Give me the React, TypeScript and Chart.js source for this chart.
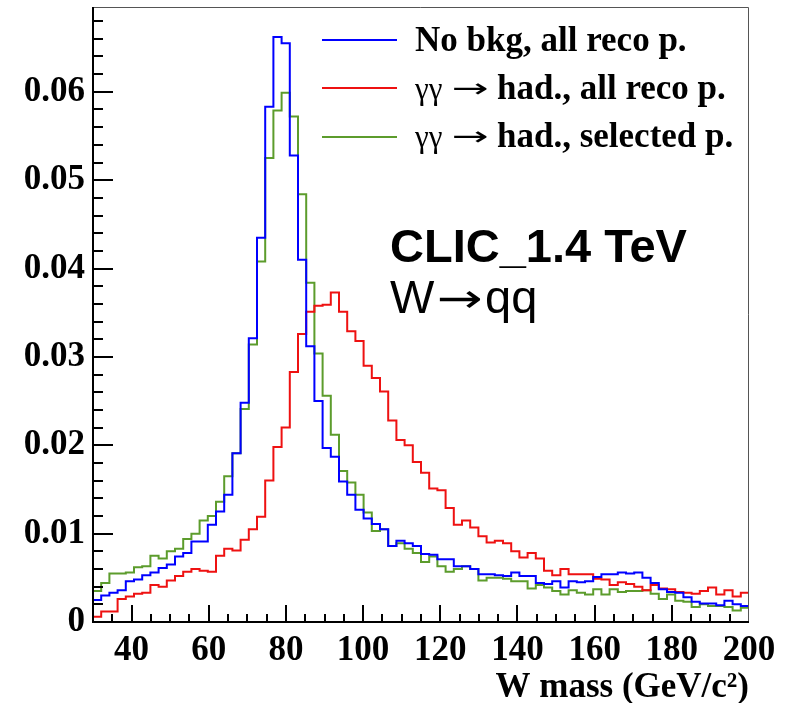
import React, { useEffect, useRef } from 'react';
import { Chart, registerables } from 'chart.js';

Chart.register(...registerables);

// ---- axis ranges / binning ----
const X_MIN = 30;
const X_MAX = 200;
const N_BINS = 80;
const Y_MIN = 0;
const Y_MAX = 0.0696;
const X_MAJOR_STEP = 20;
const X_MINOR_STEP = 5;
const Y_MAJOR_STEP = 0.01;
const Y_MINOR_STEP = 0.002;

const X_TITLE = 'W mass (GeV/c²)';
const SERIES_LABELS = ['No bkg, all reco p.', 'γγ → had., all reco p.', 'γγ → had., selected p.'];
const SERIES_COLORS = ['#0000ff', '#ee1111', '#5c9c2c'];
const TEXT_LINE1 = 'CLIC_1.4 TeV';
const TEXT_LINE2 = ['W', '→', 'qq'];

// ---- bin contents (80 bins, 30..200 GeV) ----
const noBkgAllReco = [
  0.0025, 0.0030, 0.0033, 0.0036, 0.0046, 0.0048, 0.0053, 0.0056, 0.0061, 0.0065,
  0.0074, 0.0078, 0.0091, 0.0091, 0.0110, 0.0125, 0.0144, 0.0191, 0.0248, 0.0321,
  0.0435, 0.0583, 0.0662, 0.0655, 0.0528, 0.0410, 0.0312, 0.0250, 0.0197, 0.0187,
  0.0159, 0.0144, 0.0127, 0.0117, 0.0111, 0.0105, 0.0086, 0.0092, 0.0089, 0.0086,
  0.0077, 0.0076, 0.0071, 0.0071, 0.0063, 0.0063, 0.0060, 0.0054, 0.0054, 0.0053,
  0.0052, 0.0056, 0.0052, 0.0052, 0.0044, 0.0043, 0.0046, 0.0039, 0.0046, 0.0045,
  0.0046, 0.0051, 0.0054, 0.0054, 0.0056, 0.0055, 0.0056, 0.0050, 0.0044, 0.0037,
  0.0034, 0.0033, 0.0028, 0.0023, 0.0021, 0.0021, 0.0019, 0.0024, 0.0020, 0.0018,
];

const ggHadAllReco = [
  0.0006, 0.0012, 0.0012, 0.0026, 0.0029, 0.0032, 0.0033, 0.0042, 0.0040, 0.0047,
  0.0052, 0.0057, 0.0060, 0.0058, 0.0057, 0.0075, 0.0083, 0.0081, 0.0093, 0.0105,
  0.0119, 0.0160, 0.0198, 0.0220, 0.0283, 0.0326, 0.0351, 0.0358, 0.0359, 0.0373,
  0.0351, 0.0329, 0.0318, 0.0290, 0.0276, 0.0261, 0.0228, 0.0206, 0.0200, 0.0181,
  0.0169, 0.0151, 0.0149, 0.0129, 0.0110, 0.0115, 0.0107, 0.0097, 0.0090, 0.0092,
  0.0089, 0.0080, 0.0073, 0.0078, 0.0072, 0.0058, 0.0053, 0.0060, 0.0054, 0.0054,
  0.0054, 0.0049, 0.0048, 0.0042, 0.0045, 0.0043, 0.0040, 0.0036, 0.0042, 0.0038,
  0.0037, 0.0034, 0.0033, 0.0032, 0.0035, 0.0039, 0.0031, 0.0036, 0.0029, 0.0033,
];

const ggHadSelected = [
  0.0035, 0.0044, 0.0055, 0.0055, 0.0056, 0.0062, 0.0063, 0.0075, 0.0072, 0.0080,
  0.0083, 0.0094, 0.0100, 0.0115, 0.0120, 0.0136, 0.0165, 0.0191, 0.0241, 0.0314,
  0.0408, 0.0525, 0.0579, 0.0599, 0.0572, 0.0484, 0.0384, 0.0304, 0.0256, 0.0212,
  0.0171, 0.0158, 0.0144, 0.0124, 0.0103, 0.0105, 0.0086, 0.0089, 0.0083, 0.0078,
  0.0068, 0.0074, 0.0063, 0.0057, 0.0060, 0.0063, 0.0060, 0.0047, 0.0050, 0.0050,
  0.0049, 0.0046, 0.0046, 0.0038, 0.0042, 0.0039, 0.0035, 0.0031, 0.0036, 0.0033,
  0.0031, 0.0037, 0.0031, 0.0037, 0.0034, 0.0035, 0.0035, 0.0036, 0.0032, 0.0026,
  0.0031, 0.0024, 0.0023, 0.0017, 0.0020, 0.0018, 0.0018, 0.0017, 0.0013, 0.0016,
];

const SERIES = [noBkgAllReco, ggHadAllReco, ggHadSelected];

const BIN_W = (X_MAX - X_MIN) / N_BINS;

// points at the left edge of each bin (plus the closing right edge)
function histPoints(values: number[]) {
  const pts = values.map((v, i) => ({ x: X_MIN + i * BIN_W, y: v }));
  pts.push({ x: X_MAX, y: values[values.length - 1] });
  return pts;
}

const SERIF = '"Liberation Serif", "Times New Roman", serif';
const SANS = '"Liberation Sans", Arial, sans-serif';
const ARROW_FONT = '"DejaVu Sans", sans-serif';

function drawStretched(ctx: CanvasRenderingContext2D, text: string, font: string, x: number, y: number, width: number) {
  ctx.save();
  ctx.font = font;
  const w = ctx.measureText(text).width;
  ctx.translate(x, y);
  ctx.scale(width / w, 1);
  ctx.fillText(text, 0, 0);
  ctx.restore();
}

const decorPlugin = {
  id: 'rootDecor',
  afterDatasetsDraw(chart: any) {
    const { ctx, chartArea: a, scales } = chart;
    const x = scales.x;
    const y = scales.y;
    ctx.save();
    // thin top/right frame
    ctx.strokeStyle = '#555555';
    ctx.lineWidth = 1;
    ctx.beginPath();
    ctx.moveTo(a.left, a.top + 0.5);
    ctx.lineTo(a.right - 0.5, a.top + 0.5);
    ctx.lineTo(a.right - 0.5, a.bottom);
    ctx.stroke();
    // main axes
    ctx.strokeStyle = '#000000';
    ctx.lineWidth = 2;
    ctx.beginPath();
    ctx.moveTo(a.left, a.top);
    ctx.lineTo(a.left, a.bottom);
    ctx.lineTo(a.right, a.bottom);
    ctx.stroke();
    // inside ticks on x
    const nx = Math.round((X_MAX - X_MIN) / X_MINOR_STEP);
    ctx.beginPath();
    for (let k = 1; k < nx; k++) {
      const v = X_MIN + k * X_MINOR_STEP;
      const px = Math.round(x.getPixelForValue(v));
      const major = Math.abs(v / X_MAJOR_STEP - Math.round(v / X_MAJOR_STEP)) < 1e-6;
      const len = major ? 17 : 8;
      ctx.moveTo(px, a.bottom);
      ctx.lineTo(px, a.bottom - len);
    }
    ctx.stroke();
    // inside ticks on y
    ctx.beginPath();
    const ratio = Math.round(Y_MAJOR_STEP / Y_MINOR_STEP);
    for (let k = 1; k * Y_MINOR_STEP <= Y_MAX; k++) {
      const v = k * Y_MINOR_STEP;
      const py = Math.round(y.getPixelForValue(v));
      const len = k % ratio === 0 ? 20 : 10;
      ctx.moveTo(a.left, py);
      ctx.lineTo(a.left + len, py);
    }
    ctx.stroke();
    ctx.restore();
  },
  afterDraw(chart: any) {
    const { ctx } = chart;
    ctx.save();
    // legend
    const rows = [40, 88, 137];
    const baselines = [51, 99, 147];
    chart.data.datasets.forEach((ds: any, i: number) => {
      ctx.strokeStyle = ds.borderColor;
      ctx.lineWidth = 2;
      ctx.beginPath();
      ctx.moveTo(322, rows[i]);
      ctx.lineTo(397, rows[i]);
      ctx.stroke();
      ctx.fillStyle = '#000';
      ctx.textBaseline = 'alphabetic';
      ctx.textAlign = 'left';
      const label: string = ds.label;
      const idx = label.indexOf('→');
      if (idx >= 0) {
        const greek = label.slice(0, idx).trim();
        ctx.font = `normal 31px ${SERIF}`;
        ctx.fillText(greek, 415, baselines[i]);
        drawStretched(ctx, '→', `normal 26px ${ARROW_FONT}`, 452, baselines[i] - 2, 37);
        ctx.font = `bold 35px ${SERIF}`;
        ctx.fillText(label.slice(idx + 1).trim(), 497, baselines[i]);
      } else {
        ctx.font = `bold 35px ${SERIF}`;
        ctx.fillText(label, 415, baselines[i]);
      }
    });
    // CLIC text
    ctx.fillStyle = '#000';
    ctx.textBaseline = 'alphabetic';
    ctx.textAlign = 'left';
    ctx.font = `bold 47px ${SANS}`;
    ctx.fillText(TEXT_LINE1, 390, 262);
    ctx.font = `normal 47px ${SANS}`;
    ctx.fillText(TEXT_LINE2[0], 390, 313);
    drawStretched(ctx, TEXT_LINE2[1], `normal 40px ${ARROW_FONT}`, 437, 312, 46);
    ctx.font = `normal 47px ${SANS}`;
    ctx.fillText(TEXT_LINE2[2], 485, 313);
    ctx.restore();
  },
};

export default function App() {
  const ref = useRef<HTMLCanvasElement | null>(null);
  useEffect(() => {
    if (!ref.current) return;
    const chart = new Chart(ref.current, {
      type: 'line',
      data: {
        datasets: SERIES.map((vals, i) => ({
          label: SERIES_LABELS[i],
          data: histPoints(vals),
          borderColor: SERIES_COLORS[i],
          backgroundColor: SERIES_COLORS[i],
          borderWidth: 2,
          pointRadius: 0,
          stepped: 'before' as const,
          fill: false,
          tension: 0,
        })),
      },
      options: {
        responsive: false,
        animation: false,
        devicePixelRatio: 1,
        layout: { padding: { top: 7, right: 40, left: 0, bottom: 0 } },
        plugins: {
          legend: { display: false },
          tooltip: { enabled: false },
        },
        scales: {
          x: {
            type: 'linear',
            min: X_MIN,
            max: X_MAX,
            grid: { display: false, drawTicks: false },
            border: { display: false },
            ticks: {
              stepSize: X_MAJOR_STEP,
              includeBounds: false,
              maxRotation: 0,
              autoSkip: false,
              padding: 8,
              color: '#000',
              font: { family: SERIF, size: 35, weight: 'bold' },
            },
            title: {
              display: true,
              text: X_TITLE,
              align: 'end',
              color: '#000',
              padding: { top: 0, bottom: -6 },
              font: { family: SERIF, size: 35, weight: 'bold' },
            },
            afterFit: (s: any) => {
              s.height = 81;
              s.paddingLeft = 0;
              s.paddingRight = 0;
            },
          },
          y: {
            type: 'linear',
            min: Y_MIN,
            max: Y_MAX,
            grid: { display: false, drawTicks: false },
            border: { display: false },
            ticks: {
              stepSize: Y_MAJOR_STEP,
              includeBounds: false,
              padding: 8,
              color: '#000',
              font: { family: SERIF, size: 35, weight: 'bold' },
              callback: (v: any) => (Number(v) === 0 ? '0' : Number(v).toFixed(2)),
            },
            afterFit: (s: any) => {
              s.width = 93;
              s.paddingTop = 0;
              s.paddingBottom = 0;
            },
          },
        },
      },
      plugins: [decorPlugin],
    });
    return () => chart.destroy();
  }, []);
  return (
    <div style={{ position: 'absolute', left: 0, top: 0, width: 789, height: 703, background: '#fff' }}>
      <canvas ref={ref} width={789} height={703} style={{ display: 'block' }} />
    </div>
  );
}
